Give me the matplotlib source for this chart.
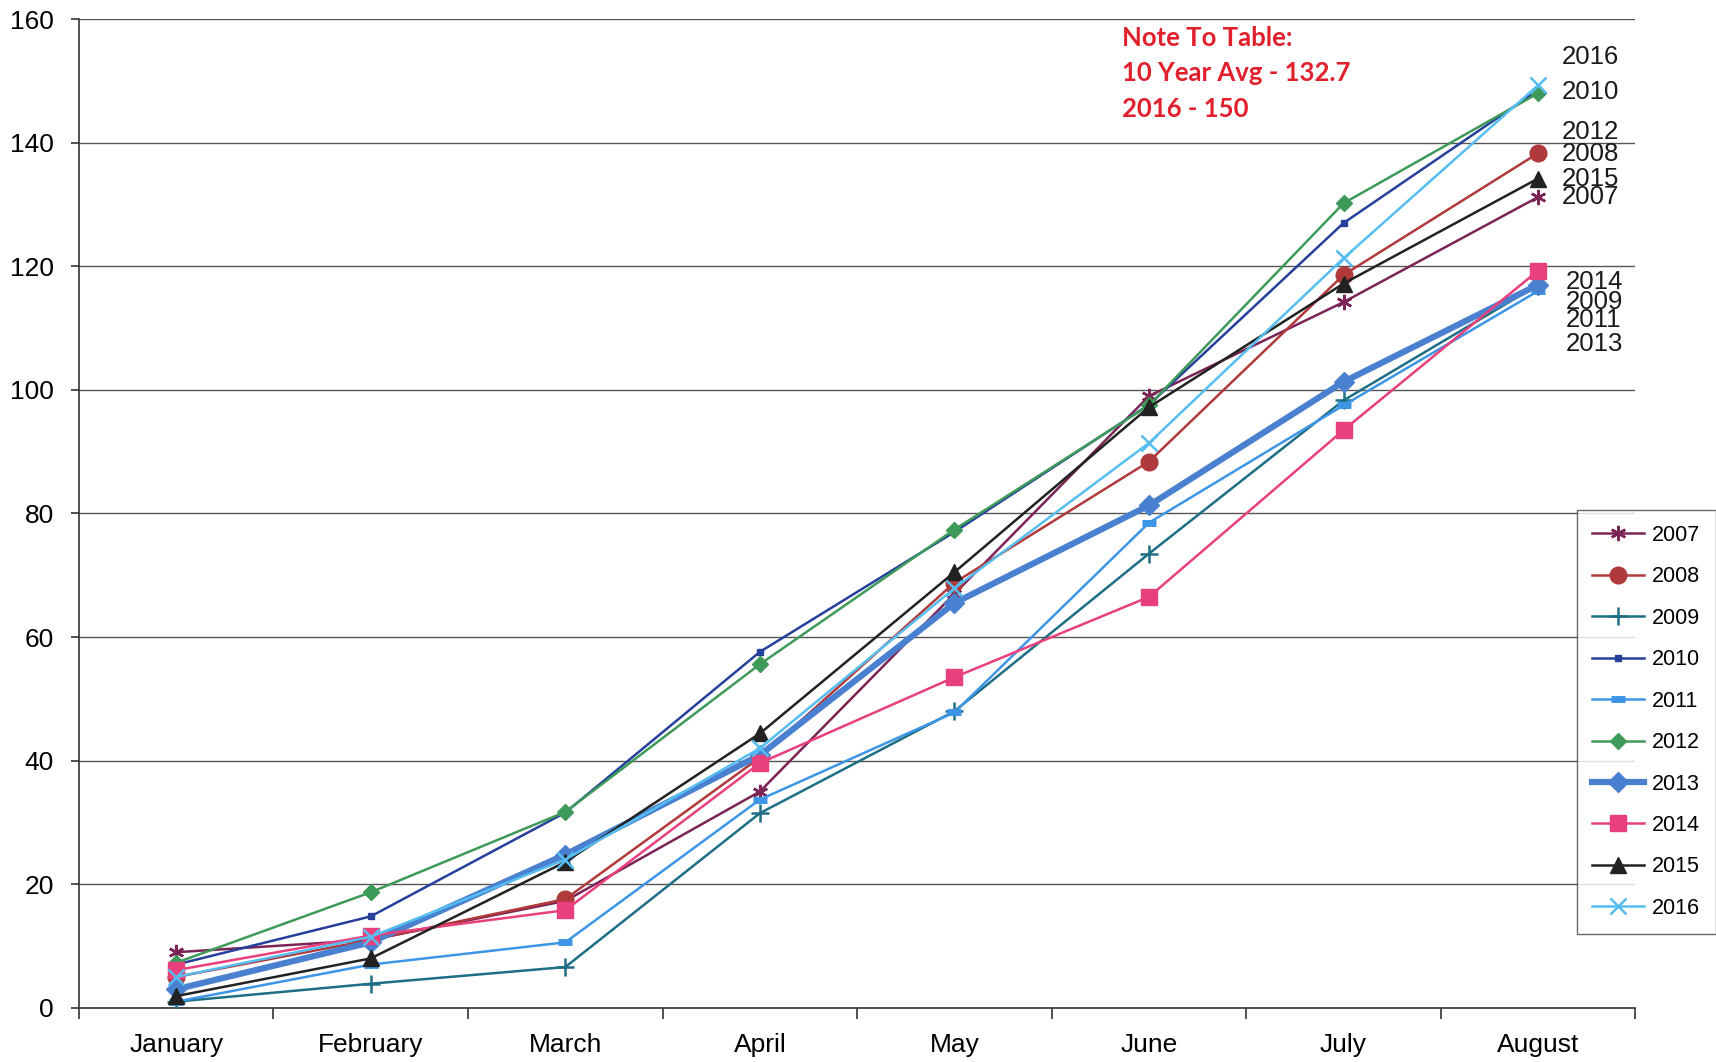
import matplotlib

matplotlib.use("Agg")
import matplotlib.pyplot as plt

plt.rcParams["font.family"] = ["Liberation Sans", "DejaVu Sans"]

months = ["January", "February", "March", "April", "May", "June", "July", "August"]

y2007 = [9.0, 11.0, 17.3, 35.0, 67.0, 99.0, 114.2, 131.2]
y2008 = [5.0, 11.0, 17.6, 40.5, 68.8, 88.4, 118.6, 138.3]
y2009 = [1.0, 3.9, 6.6, 31.5, 48.0, 73.5, 98.3, 117.0]
y2010 = [7.0, 14.8, 31.6, 57.6, 77.0, 97.6, 127.0, 148.5]
y2011 = [1.0, 7.0, 10.6, 33.7, 47.8, 78.5, 97.5, 116.0]
y2012 = [7.3, 18.7, 31.7, 55.6, 77.4, 97.5, 130.2, 148.0]
y2013 = [3.0, 10.6, 24.8, 40.9, 65.5, 81.3, 101.3, 117.0]
y2014 = [6.1, 11.7, 15.8, 39.6, 53.5, 66.5, 93.5, 119.3]
y2015 = [1.9, 8.0, 23.6, 44.4, 70.5, 97.2, 117.2, 134.2]
y2016 = [5.0, 11.5, 24.0, 42.0, 67.9, 91.4, 121.3, 149.3]

years = ["2007", "2008", "2009", "2010", "2011", "2012", "2013", "2014", "2015", "2016"]
series = [y2007, y2008, y2009, y2010, y2011, y2012, y2013, y2014, y2015, y2016]

# end labels as they appear right of August
end_labels = ["2016", "2010", "2012", "2008", "2015", "2007", "2014", "2009", "2011", "2013"]
end_label_y = [153.9, 148.2, 141.7, 138.2, 134.2, 131.2, 117.5, 114.2, 111.3, 107.5]

note_lines = ["Note To Table:", "10 Year Avg - 132.7", "2016 - 150"]
note_y = [157.0, 151.2, 145.5]

styles = {
    "2007": dict(color="#7b2456", marker=(6, 2, 0), ms=11, lw=1.8, mew=1.8),
    "2008": dict(color="#b0393b", marker="o", ms=12, lw=1.8),
    "2009": dict(color="#1e6e86", marker="+", ms=13, lw=1.8, mew=1.8),
    "2010": dict(color="#26409b", marker="s", ms=5, lw=1.8),
    "2011": dict(color="#3d95e6", marker="_", ms=10, lw=1.8, mew=5),
    "2012": dict(color="#3e9a58", marker="D", ms=8, lw=1.8),
    "2013": dict(color="#4a80d0", marker="D", ms=10, lw=4.5),
    "2014": dict(color="#e8407c", marker="s", ms=11, lw=1.8),
    "2015": dict(color="#222222", marker="^", ms=12, lw=1.8),
    "2016": dict(color="#56bdf0", marker="x", ms=12, lw=1.8, mew=1.8),
}

fig = plt.figure(figsize=(17.16, 10.62), dpi=100)
ax = fig.add_axes([0.046, 0.051, 0.907, 0.931])

x = list(range(len(months)))
for yr, vals in zip(years, series):
    ax.plot(x, vals, label=yr, zorder=3, **styles[yr])

ax.set_xlim(-0.5, len(months) - 0.5)
ax.set_ylim(0, 160)
ax.set_yticks(range(0, 161, 20))
ax.yaxis.grid(True, color="#555555", lw=1.0)
ax.set_axisbelow(True)

ax.set_xticks(x)
ax.set_xticklabels(months)
ax.set_xticks([i - 0.5 for i in range(len(months) + 1)], minor=True)
ax.tick_params(axis="x", which="major", length=0, pad=18, labelsize=19)
ax.tick_params(axis="x", which="minor", length=8, width=1.2, color="#333333")
ax.tick_params(axis="y", length=6, width=1.2, pad=12, labelsize=19, color="#333333")

for s in ["top", "right"]:
    ax.spines[s].set_visible(False)
for s in ["left", "bottom"]:
    ax.spines[s].set_color("#333333")
    ax.spines[s].set_linewidth(1.2)

for i, (lab, yv) in enumerate(zip(end_labels, end_label_y)):
    ax.text(7.12 if i < 6 else 7.14, yv, lab, fontsize=18.5, va="center", ha="left",
            color="#1a1a1a", clip_on=False)

for line, yv in zip(note_lines, note_y):
    ax.text(4.86, yv, line, fontsize=18.5, va="center", ha="left", color="#e0202c",
            family=["Lato", "DejaVu Sans"], fontweight="bold")

handles, labels = ax.get_legend_handles_labels()
leg = fig.legend(handles, labels, loc="upper left", bbox_to_anchor=(0.919, 0.52),
                 borderaxespad=0, fontsize=15.5, frameon=True, fancybox=False,
                 edgecolor="#444444", handlelength=2.4, labelspacing=0.95,
                 handletextpad=0.4, borderpad=0.7)
leg.get_frame().set_linewidth(1.0)

fig.savefig("out.png", dpi=100)
